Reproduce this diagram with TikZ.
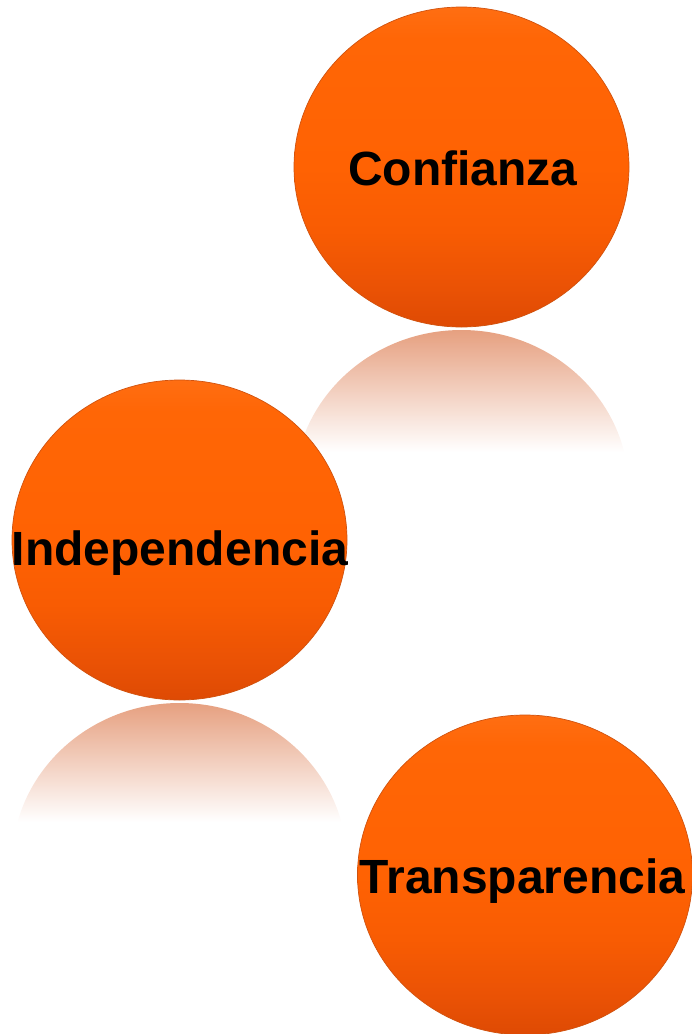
\documentclass[tikz,border=0pt]{standalone}
\usepackage{fontspec}
\setmainfont{Liberation Sans}
\usetikzlibrary{shapes.geometric}
\definecolor{orEdge}{HTML}{D0520E}
\definecolor{refl}{HTML}{E6A080}
\pgfdeclareverticalshading{ballshade}{100bp}{%
  color(0bp)=(rgb,255:red,222;green,74;blue,4);
  color(25bp)=(rgb,255:red,222;green,74;blue,4);
  color(31bp)=(rgb,255:red,234;green,82;blue,5);
  color(40bp)=(rgb,255:red,248;green,92;blue,3);
  color(50bp)=(rgb,255:red,255;green,98;blue,3);
  color(70bp)=(rgb,255:red,255;green,102;blue,6);
  color(75bp)=(rgb,255:red,255;green,110;blue,18);
  color(100bp)=(rgb,255:red,255;green,110;blue,18)}
\tikzset{
  ball/.style={ellipse, minimum width=335pt, minimum height=320pt, inner sep=0pt,
    shading=ballshade, draw=orEdge, line width=0.7pt},
  lbl/.style={font=\bfseries\fontsize{48}{56}\selectfont, text=black, anchor=base, inner sep=0pt},
  reflshade/.style={top color=refl, bottom color=white}
}
\begin{document}
\begin{tikzpicture}[x=1pt,y=-1pt]
\useasboundingbox (0,0) rectangle (692,1034);
% reflections
\begin{scope}
  \clip (461.5,490) ellipse [x radius=167.5, y radius=160];
  \shade[reflshade] (290,330) rectangle (632,452);
\end{scope}
\begin{scope}
  \clip (179.5,863) ellipse [x radius=167.5, y radius=160];
  \shade[reflshade] (8,703) rectangle (350,822);
\end{scope}
% circles
\node[ball] (c1) at (461.5,167) {};
\node[ball] (c2) at (179.5,540) {};
\node[ball] (c3) at (525,875) {};
% labels
\node[lbl] (t1) at (463,185) {Confianza};
\node[lbl] (t2) at (180,565) {Independencia};
\node[lbl] (t3) at (522.5,893) {Transparencia};
\end{tikzpicture}
\end{document}
